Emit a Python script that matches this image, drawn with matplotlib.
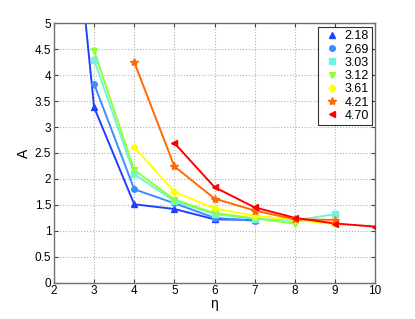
import numpy as np
import matplotlib.pyplot as plt

plt.rcParams['font.family'] = ['Liberation Sans', 'DejaVu Sans']
plt.rcParams['font.size'] = 8.5

# %% data
labels = ['2.18', '2.69', '3.03', '3.12', '3.61', '4.21', '4.70']
eta_218 = [2, 3, 4, 5, 6, 7]
A_218 = [11.1, 3.38, 1.51, 1.42, 1.22, 1.21]
eta_269 = [3, 4, 5, 6, 7]
A_269 = [3.83, 1.80, 1.53, 1.25, 1.19]
eta_303 = [3, 4, 5, 6, 7, 8, 9]
A_303 = [4.29, 2.09, 1.57, 1.32, 1.23, 1.20, 1.32]
eta_312 = [3, 4, 5, 6, 7, 8]
A_312 = [4.47, 2.17, 1.60, 1.34, 1.24, 1.14]
eta_361 = [4, 5, 6, 7, 8, 9]
A_361 = [2.61, 1.75, 1.43, 1.29, 1.21, 1.13]
eta_421 = [4, 5, 6, 7, 8, 9]
A_421 = [4.25, 2.24, 1.62, 1.39, 1.22, 1.21]
eta_470 = [5, 6, 7, 8, 9, 10]
A_470 = [2.69, 1.84, 1.45, 1.25, 1.14, 1.08]

etas = [eta_218, eta_269, eta_303, eta_312, eta_361, eta_421, eta_470]
As = [A_218, A_269, A_303, A_312, A_361, A_421, A_470]
colors = ['#2040ff', '#3c8cff', '#70f4e0', '#90ff30', '#ffff00', '#ff6a00', '#ff0000']
markers = ['^', 'o', 's', 'v', 'D', '*', '<']
msizes = [4, 4, 4, 4, 3.5, 6, 4.5]

fig = plt.figure(figsize=(4.15, 3.19), dpi=100)
ax = fig.add_axes([0.130, 0.114, 0.774, 0.813])

for x, y, c, m, ms, lab in zip(etas, As, colors, markers, msizes, labels):
    ax.plot(x, y, '-', color=c, linewidth=1.4, zorder=2)
    ax.plot(x, y, linestyle='none', marker=m, color=c, markersize=ms, label=lab, zorder=3)

ax.set_xlim(2, 10)
ax.set_ylim(0, 5)
ax.set_xticks(np.arange(2, 11, 1))
ax.set_yticks(np.arange(0, 5.01, 0.5))
ax.set_yticklabels(['0', '0.5', '1', '1.5', '2', '2.5', '3', '3.5', '4', '4.5', '5'])
ax.grid(True, linestyle=':', color='#b0b0b0', linewidth=0.8)
ax.tick_params(direction='in', top=True, right=True, length=3, pad=2,
               colors='#404040', labelcolor='black')
for sp in ax.spines.values():
    sp.set_color('#707070')
    sp.set_linewidth(1)
ax.set_xlabel('η', fontsize=10, labelpad=0)
ax.set_ylabel('A', fontsize=10, labelpad=3)

leg = ax.legend(loc='upper right', bbox_to_anchor=(0.99, 0.985), frameon=True, fancybox=False,
                edgecolor='black', handlelength=1.8, handletextpad=0.1, borderpad=0.25,
                labelspacing=0.1, fontsize=9, borderaxespad=0.0)
leg.get_frame().set_linewidth(0.8)

plt.savefig('out.png', dpi=100)
